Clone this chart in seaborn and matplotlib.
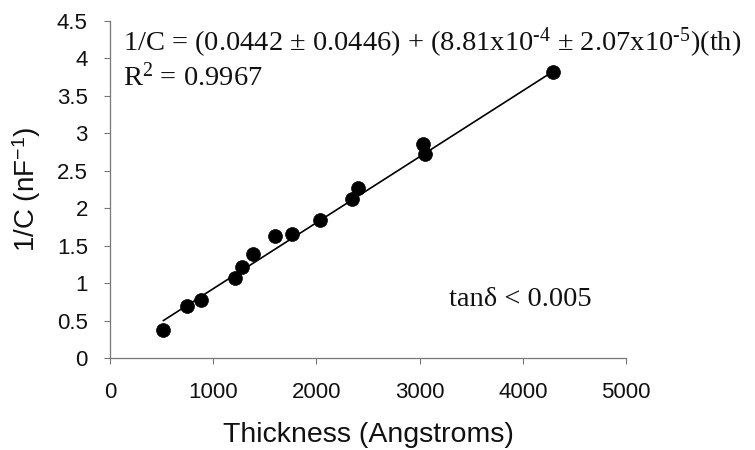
import matplotlib
matplotlib.use("Agg")
import matplotlib.pyplot as plt
import numpy as np
import pandas as pd
import seaborn as sns

# Film thickness (Angstroms) and inverse capacitance (1/nF)
thickness = [516, 743, 879, 1211, 1276, 1383, 1599, 1761, 2035, 2342, 2406, 3036, 3052, 4290]
inv_cap = [0.38, 0.69, 0.78, 1.07, 1.22, 1.39, 1.63, 1.66, 1.84, 2.12, 2.27, 2.86, 2.73, 3.82]

# Linear fit parameters
intercept = 0.0442
slope = 8.81e-4

x_ticks = [0, 1000, 2000, 3000, 4000, 5000]
y_ticks = [0, 0.5, 1, 1.5, 2, 2.5, 3, 3.5, 4, 4.5]
y_tick_labels = ["0", "0.5", "1", "1.5", "2", "2.5", "3", "3.5", "4", "4.5"]

sns.set_style("white")
plt.rcParams["font.family"] = ["Liberation Sans", "DejaVu Sans"]
plt.rcParams["mathtext.fontset"] = "custom"
plt.rcParams["mathtext.rm"] = "Liberation Serif"
plt.rcParams["mathtext.it"] = "Liberation Serif:italic"
plt.rcParams["mathtext.sf"] = "Liberation Sans"

df = pd.DataFrame({"th": thickness, "invC": inv_cap})

fig = plt.figure(figsize=(7.55, 4.5), dpi=100)
ax = fig.add_axes([110 / 755, 1 - 358 / 450, (626 - 110) / 755, (358 - 21) / 450])

# Fit line across the measured thickness range
xf = np.array([min(thickness), max(thickness)])
ax.plot(xf, intercept + slope * xf, color="black", lw=1.2, zorder=2)

sns.scatterplot(data=df, x="th", y="invC", ax=ax, s=100, color="black",
                edgecolor="black", linewidth=0.5, zorder=3, legend=False)

ax.set_xlim(0, 5000)
ax.set_ylim(0, 4.5)
ax.set_xticks(x_ticks)
ax.set_xticklabels([str(t) for t in x_ticks])
ax.set_yticks(y_ticks)
ax.set_yticklabels(y_tick_labels)

for side in ("top", "right"):
    ax.spines[side].set_visible(False)
for side in ("left", "bottom"):
    ax.spines[side].set_color("#777777")
    ax.spines[side].set_linewidth(0.9)

ax.tick_params(axis="both", which="major", direction="out", length=4,
               width=0.8, color="#777777", labelsize=16, labelcolor="#111111",
               left=True, bottom=True)
ax.tick_params(axis="x", pad=13)
ax.tick_params(axis="y", pad=12)

ax.set_xlabel("Thickness (Angstroms)", fontsize=20.5, color="#111111", labelpad=14)
ax.set_ylabel(r"1/C (nF$^{\mathsf{-1}}$)", fontsize=20, color="#111111", labelpad=10)

serif = ["Liberation Serif", "DejaVu Serif"]
fig.text(123 / 755, 1 - 43 / 450,
         r"1/C = (0.0442 ± 0.0446) + (8.81x10$^{\text{-}4}$ ± 2.07x10$^{\text{-}5}$)(th)",
         family=serif, fontsize=20.5, va="center", ha="left", color="#111111")
fig.text(123 / 755, 1 - 77 / 450, r"R$^{2}$ = 0.9967",
         family=serif, fontsize=20.5, va="center", ha="left", color="#111111")
fig.text(449 / 755, 1 - 300 / 450, "tanδ < 0.005",
         family=serif, fontsize=20.5, va="center", ha="left", color="#111111")

fig.savefig("out.png", dpi=100, facecolor="white")
